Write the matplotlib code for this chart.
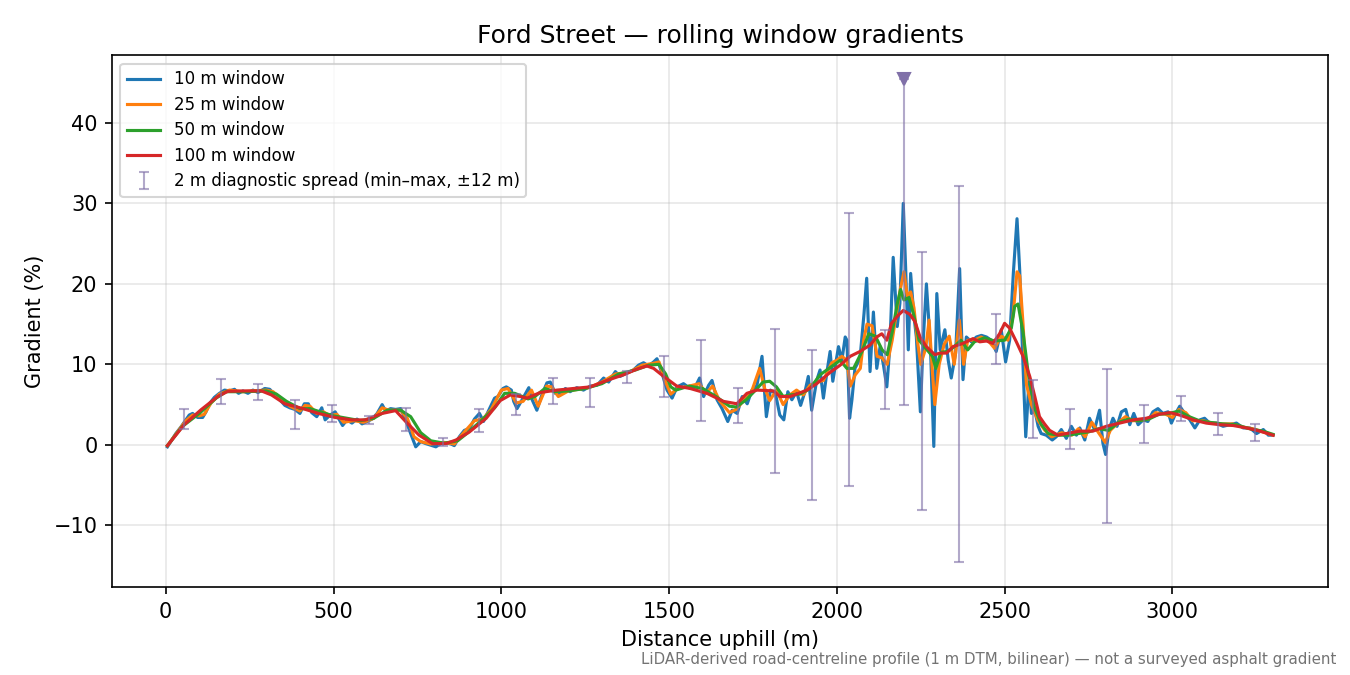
import matplotlib.pyplot as plt
import numpy as np

# distance (m) and gradient (%), one pair of lists per window
d10 = [5, 15, 30, 45, 60, 70, 80, 95, 110, 120, 130, 145, 160, 175, 190, 205, 217, 230, 245, 260,
       275, 295, 310, 325, 340, 355, 370, 385, 400, 413, 425, 435, 450, 465, 475, 490, 505, 515, 527, 540,
       555, 570, 585, 600, 615, 630, 645, 655, 670, 685, 700, 715, 730, 745, 760, 775, 790, 805, 820, 835,
       850, 860, 875, 890, 905, 920, 935, 947, 965, 980, 990, 1005, 1015, 1030,
       1037, 1047, 1062, 1082, 1092, 1106, 1121, 1136, 1146, 1161, 1176, 1191, 1205, 1225, 1245, 1265,
       1285, 1305, 1320, 1340, 1354, 1374, 1394, 1409, 1424, 1439, 1454, 1464, 1479, 1494, 1509, 1524,
       1543, 1563, 1578, 1591, 1603, 1618, 1628, 1643, 1658, 1675, 1688, 1703, 1718, 1733, 1747, 1762,
       1777, 1790, 1802, 1817, 1830, 1842, 1854, 1866, 1880, 1892, 1905, 1915, 1925, 1940, 1950,
       1960, 1970, 1980, 1988, 1995, 2005, 2015, 2025, 2030, 2038, 2045, 2054, 2069, 2081, 2089, 2099,
       2109, 2119, 2129, 2139, 2149, 2158, 2168, 2180, 2188, 2198, 2205, 2213, 2220, 2229, 2237, 2249,
       2257, 2267, 2279, 2289, 2298, 2308, 2322, 2332, 2341, 2354, 2366, 2376, 2386, 2401, 2416, 2431,
       2446, 2460, 2475, 2490, 2503, 2515, 2526, 2537, 2545, 2555, 2563, 2573, 2580, 2590, 2600, 2609,
       2624, 2642, 2654, 2669, 2684, 2699, 2714, 2724, 2739, 2753, 2768, 2783, 2793, 2801, 2811, 2823,
       2835, 2848, 2861, 2873, 2885, 2898, 2913, 2927, 2942, 2957, 2972, 2987, 2997, 3010, 3022, 3037,
       3052, 3067, 3082, 3096, 3111, 3131, 3151, 3171, 3191, 3211, 3231, 3251, 3271, 3286, 3300]
g10 = [-0.25, 0.4, 1.4, 2.2, 3.1, 3.7, 3.9, 3.4, 3.4, 4.1, 5.1, 5.9, 6.4, 6.8, 6.7, 6.9, 6.4, 6.7, 6.4, 6.8,
       6.5, 7.0, 6.9, 6.2, 5.6, 4.9, 4.6, 4.4, 3.9, 5.1, 5.1, 4.0, 3.5, 4.6, 3.1, 3.7, 4.1, 3.3, 2.4, 3.1,
       2.7, 3.2, 2.6, 2.9, 3.2, 3.9, 5.0, 4.2, 4.5, 4.4, 4.5, 3.1, 1.4, -0.25, 0.4, 0.15, -0.05, -0.25, 0.15, 0.25,
       0.1, -0.1, 1.0, 1.8, 2.0, 3.2, 3.9, 2.9, 4.5, 5.8, 6.0, 7.0, 7.2, 6.8,
       5.4, 4.5, 5.6, 7.1, 5.6, 4.3, 6.2, 7.7, 7.8, 6.4, 6.2, 7.0, 6.6, 7.1, 6.8, 7.3,
       7.4, 8.3, 7.8, 9.1, 8.5, 8.9, 9.3, 9.9, 10.2, 9.8, 10.3, 10.7, 8.9, 6.8, 5.8, 7.2,
       7.6, 7.0, 7.2, 8.3, 6.0, 7.4, 8.0, 5.6, 4.5, 2.9, 4.3, 3.9, 6.0, 5.1, 6.8, 7.4,
       11.0, 3.5, 6.8, 6.4, 3.7, 3.1, 6.6, 5.6, 6.6, 4.9, 6.6, 8.5, 4.3, 8.0, 9.3,
       5.8, 8.9, 11.6, 7.9, 9.7, 12.2, 10.5, 13.4, 13.0, 3.3, 5.6, 9.5, 10.7, 16.3, 20.7, 9.1,
       16.5, 9.5, 12.2, 9.9, 7.2, 12.2, 23.3, 14.7, 17.6, 30.0, 22.1, 11.8, 21.3, 16.3, 13.4, 4.1,
       12.6, 20.0, 12.2, -0.2, 18.8, 11.8, 14.3, 10.5, 8.3, 11.4, 21.9, 8.1, 13.4, 12.8, 13.4, 13.6,
       13.4, 13.0, 11.6, 14.3, 10.3, 13.0, 21.3, 28.1, 21.7, 9.7, 1.0, 8.1, 3.9, 4.3, 2.3, 1.4,
       1.2, 0.6, 1.0, 1.9, 0.8, 2.3, 1.2, 2.1, 0.6, 3.3, 1.9, 4.3, 0.2, -1.2, 1.9, 3.3,
       2.3, 4.1, 4.4, 2.5, 3.9, 2.5, 3.1, 2.9, 4.1, 4.5, 3.9, 4.1, 2.7, 3.9, 4.8, 3.9,
       3.1, 2.1, 3.1, 3.3, 2.7, 2.7, 2.3, 2.5, 2.7, 2.1, 2.1, 1.4, 1.9, 1.2, 1.2]

d25 = [5, 30, 60, 80, 100, 115, 135, 160, 190, 230, 260, 300, 320, 345, 370, 400, 415, 430, 450, 470,
       490, 510, 530, 560, 590, 620, 645, 665, 700, 720, 740, 760, 790, 830, 860, 890, 920, 945, 970, 1000,
       1020, 1045, 1065, 1090, 1110, 1135, 1150, 1170, 1200, 1230, 1260, 1300, 1340, 1380, 1420, 1450, 1470, 1490,
       1505, 1525, 1560, 1590, 1610, 1630, 1650, 1680, 1700, 1720, 1745, 1770, 1785, 1800, 1820, 1840,
       1860, 1880, 1900, 1920, 1940, 1960, 1985, 2000, 2015, 2030, 2040, 2055, 2070, 2080, 2090, 2105,
       2120, 2135, 2150, 2165, 2180, 2190, 2200, 2210, 2220, 2230, 2240, 2250, 2265, 2275, 2285, 2292,
       2305, 2320, 2335, 2350, 2365, 2378, 2390, 2410, 2430, 2450, 2470, 2490, 2510, 2525, 2537, 2545,
       2555, 2565, 2580, 2600, 2620, 2640, 2670, 2700, 2720, 2740, 2760, 2780, 2800, 2815, 2840, 2860,
       2880, 2900, 2930, 2950, 2980, 3000, 3020, 3040, 3060, 3090, 3120, 3150, 3180, 3210, 3240, 3270, 3300]
g25 = [-0.1, 1.3, 3.0, 3.7, 3.6, 3.8, 5.2, 6.3, 6.8, 6.6, 6.7, 6.8, 6.6, 5.7, 4.8, 4.2, 4.9, 4.8, 3.9, 4.1,
       3.6, 3.8, 2.8, 3.0, 2.8, 3.3, 4.6, 4.3, 4.3, 3.3, 1.0, 0.4, 0.1, 0.3, 0.1, 1.6, 3.0, 3.2, 4.4, 6.8,
       7.0, 5.2, 5.4, 6.8, 4.8, 7.3, 7.2, 6.0, 6.7, 6.9, 7.1, 7.8, 8.8, 9.0, 9.9, 10.1, 10.3, 7.8,
       6.3, 7.0, 7.3, 7.6, 6.4, 7.3, 5.5, 4.0, 4.4, 5.4, 6.5, 9.5, 7.0, 5.5, 6.8, 5.0,
       6.2, 6.8, 6.2, 7.4, 7.8, 8.0, 10.2, 10.5, 11.0, 10.5, 7.3, 8.7, 9.5, 13.0, 15.0, 14.8,
       11.0, 10.8, 10.0, 13.0, 17.0, 19.5, 21.5, 18.5, 19.0, 17.0, 13.0, 10.0, 12.0, 15.5, 9.0, 5.0,
       10.0, 12.5, 13.5, 10.0, 15.5, 10.0, 13.0, 13.0, 13.4, 13.0, 12.0, 13.5, 13.0, 16.0, 21.5, 21.0,
       15.0, 7.5, 5.0, 3.0, 1.8, 1.0, 1.5, 1.2, 2.0, 1.0, 2.8, 1.5, 0.3, 1.8, 2.8, 3.5,
       3.0, 3.0, 3.2, 4.0, 3.8, 3.4, 4.4, 4.0, 3.0, 3.0, 2.7, 2.6, 2.6, 2.2, 2.0, 1.6, 1.2]

d50 = [5, 50, 100, 150, 180, 230, 300, 330, 360, 400, 430, 460, 500, 540, 580, 620, 660, 700, 730, 760,
       790, 830, 870, 900, 940, 980, 1010, 1040, 1080, 1100, 1130, 1160, 1200, 1250, 1300, 1350, 1400, 1440,
       1470, 1490, 1505, 1520, 1560, 1600, 1640, 1680, 1700, 1730, 1760, 1780, 1800, 1820, 1840, 1860, 1890,
       1920, 1950, 1980, 2010, 2030, 2050, 2075, 2095, 2115, 2135, 2150, 2165, 2180, 2190, 2200, 2215, 2230,
       2245, 2265, 2285, 2295, 2310, 2330, 2350, 2370, 2390, 2410, 2440, 2470, 2500, 2520, 2530, 2540, 2555,
       2570, 2590, 2610, 2630, 2660, 2690, 2720, 2750, 2780, 2810, 2840, 2870, 2900, 2930, 2960, 2990, 3020,
       3050, 3080, 3110, 3150, 3190, 3230, 3270, 3300]
g50 = [-0.1, 2.3, 3.9, 5.8, 6.6, 6.6, 6.7, 6.3, 5.4, 4.5, 4.5, 4.1, 3.6, 3.3, 3.0, 3.3, 4.3, 4.3, 3.5, 1.5,
       0.5, 0.2, 0.5, 1.5, 3.0, 4.6, 6.4, 6.4, 5.7, 6.0, 7.0, 6.6, 6.7, 7.0, 7.6, 8.8, 9.3, 9.9,
       10.0, 8.8, 7.2, 6.8, 7.3, 7.0, 6.0, 4.8, 4.7, 5.6, 6.9, 7.8, 7.9, 7.2, 6.0, 6.2, 6.3,
       7.0, 8.7, 9.6, 10.5, 9.5, 9.5, 11.6, 13.8, 13.5, 11.8, 11.2, 14.0, 17.5, 19.3, 18.0, 18.3, 16.0,
       13.0, 12.0, 11.0, 9.5, 11.5, 11.6, 12.2, 13.0, 11.8, 12.8, 13.3, 12.9, 13.0, 14.5, 17.2, 17.5, 14.0,
       9.0, 4.5, 2.5, 1.4, 1.2, 1.2, 1.4, 1.6, 2.0, 1.8, 2.8, 3.2, 3.0, 3.2, 3.8, 3.9, 4.2,
       3.5, 3.0, 2.8, 2.6, 2.5, 2.0, 1.7, 1.3]

d100 = [5, 55, 105, 155, 185, 235, 285, 315, 355, 405, 455, 505, 555, 595, 645, 685, 715, 755, 795, 835,
        865, 905, 955, 997, 1027, 1057, 1077, 1116, 1166, 1215, 1265, 1315, 1364, 1404, 1434, 1454, 1484,
        1523, 1563, 1613, 1662, 1702, 1732, 1762, 1811, 1831, 1861, 1911, 1940, 1980, 2010, 2040, 2069,
        2099, 2119, 2134, 2149, 2163, 2183, 2198, 2218, 2233, 2248, 2267, 2292, 2307, 2327, 2346, 2376,
        2406, 2426, 2446, 2465, 2485, 2500, 2515, 2535, 2555, 2575, 2590, 2604, 2619, 2634, 2659, 2684,
        2724, 2763, 2803, 2843, 2883, 2922, 2962, 2992, 3022, 3062, 3101, 3141, 3181, 3221, 3261, 3300]
g100 = [-0.1, 2.5, 4.35, 6.0, 6.65, 6.7, 6.7, 6.2, 5.1, 4.55, 3.9, 3.4, 3.1, 3.1, 3.9, 4.25, 2.9, 1.2, 0.15, 0.15,
        0.6, 1.6, 3.3, 5.5, 6.2, 6.0, 5.8, 6.5, 6.8, 7.0, 7.2, 8.0, 8.7, 9.4, 9.8, 9.5, 8.5,
        7.3, 7.0, 6.4, 5.4, 5.1, 6.4, 6.8, 6.7, 6.0, 6.0, 6.8, 7.6, 9.0, 9.9, 11.0, 11.6,
        12.4, 13.4, 13.8, 13.0, 15.1, 16.1, 16.7, 16.2, 15.3, 13.4, 12.2, 11.2, 11.4, 11.4, 12.2, 12.6,
        13.2, 12.8, 12.9, 12.6, 13.8, 15.1, 14.5, 12.8, 11.0, 8.5, 6.0, 3.5, 2.6, 1.8, 1.2, 1.4,
        1.7, 1.7, 2.3, 2.7, 3.1, 3.3, 3.8, 4.0, 3.7, 3.1, 2.7, 2.5, 2.4, 2.1, 1.7, 1.2]

# 2 m diagnostic spread, min / max within +-12 m
spread_x = [55, 165, 275, 385, 495, 605, 715, 825, 935, 1045, 1155, 1265, 1375, 1485, 1595,
            1705, 1815, 1925, 2035, 2145, 2255, 2365, 2475, 2585, 2695, 2805, 2915, 3025, 3135, 3245]
spread_min = [2.0, 5.1, 5.6, 2.0, 2.8, 2.6, 1.7, -0.2, 1.6, 3.7, 5.1, 4.7, 7.7, 6.0, 2.9,
              2.7, -3.5, -6.8, -5.1, 4.5, -8.1, -14.6, 10.1, 0.8, -0.5, -9.7, 0.2, 3.0, 1.2, 0.5]
spread_max = [4.4, 8.2, 7.5, 5.6, 5.0, 3.6, 4.6, 0.9, 4.5, 6.3, 8.3, 8.3, 9.2, 11.0, 13.0,
              7.0, 14.4, 11.8, 28.8, 14.3, 24.0, 32.2, 16.2, 8.0, 4.5, 9.4, 4.9, 6.1, 4.0, 2.6]
# the one spread whose max runs off the top of the axes
clip_x = [2200]
clip_min = [5.0]

ymin, ymax = -17.7, 48.4
spread_col = '#8070a8'

fig, ax = plt.subplots(figsize=(9, 4.5), dpi=150)
fig.subplots_adjust(left=0.083, right=0.984, top=0.918, bottom=0.13)

ax.plot(d10, g10, color='C0', lw=1.5, label='10 m window')
ax.plot(d25, g25, color='C1', lw=1.5, label='25 m window')
ax.plot(d50, g50, color='C2', lw=1.5, label='50 m window')
ax.plot(d100, g100, color='C3', lw=1.5, label='100 m window')

sx = np.array(spread_x)
lo = np.array(spread_min)
hi = np.array(spread_max)
mid = (lo + hi) / 2
ax.errorbar(sx, mid, yerr=[mid - lo, hi - mid], fmt='none', ecolor=spread_col, alpha=0.6,
            elinewidth=1, capsize=2.5, label='2 m diagnostic spread (min\u2013max, \u00b112 m)')

# clipped spread: bar up to a marker near the top edge
top_mark = ymax - 0.045 * (ymax - ymin)
cx = np.array(clip_x)
clo = np.array(clip_min)
cmid = (clo + top_mark) / 2
ax.errorbar(cx, cmid, yerr=[cmid - clo, top_mark - cmid], fmt='none', ecolor=spread_col,
            alpha=0.6, elinewidth=1, capsize=2.5)
ax.plot(cx, [top_mark] * len(cx), 'v', color=spread_col, ms=6, zorder=5)

ax.set_xlim(-160, 3465)
ax.set_ylim(ymin, ymax)
ax.grid(True, alpha=0.3)
ax.set_xlabel('Distance uphill (m)')
ax.set_ylabel('Gradient (%)')
ax.set_title('Ford Street \u2014 rolling window gradients', fontsize=12)
ax.legend(loc='upper left', fontsize=8, labelspacing=0.45)

fig.text(0.99, 0.012, 'LiDAR-derived road-centreline profile (1 m DTM, bilinear) \u2014 not a surveyed asphalt gradient',
         ha='right', va='bottom', fontsize=7.2, color='0.45')

plt.savefig('out.png')
